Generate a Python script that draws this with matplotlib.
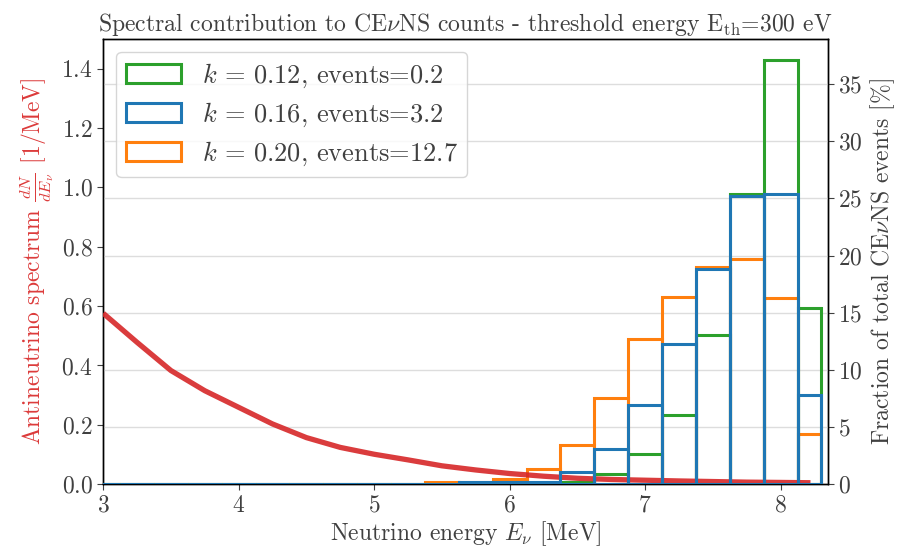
import matplotlib
matplotlib.use("Agg")
import matplotlib.pyplot as plt
from matplotlib.patches import Patch
from matplotlib.ticker import MultipleLocator

plt.rcParams["font.family"] = "serif"
plt.rcParams["font.serif"] = ["cmr10"]
plt.rcParams["mathtext.fontset"] = "cm"
plt.rcParams["axes.formatter.use_mathtext"] = True

# antineutrino spectrum dN/dE [1/MeV]
spec_energy = [3.0, 3.25, 3.5, 3.75, 4.0, 4.25, 4.5, 4.75, 5.0, 5.25, 5.5, 5.75,
               6.0, 6.25, 6.5, 6.75, 7.0, 7.25, 7.5, 7.75, 8.0, 8.22]
spec_flux = [0.576, 0.478, 0.383, 0.315, 0.259, 0.203, 0.157, 0.124, 0.101, 0.082,
             0.062, 0.048, 0.036, 0.027, 0.020, 0.016, 0.0135, 0.011, 0.009, 0.007,
             0.006, 0.005]

# energy bins (0.25 MeV, last one cut at the spectrum end)
bin_edges = [2.875 + 0.25 * i for i in range(22)] + [8.3]

# fraction of CEvNS events per bin [%], bins below 5.375 MeV are empty
n_empty = 10
frac_k012 = [0.0] * n_empty + [0.0, 0.0, 0.05, 0.1, 0.23, 0.87, 2.65, 6.06, 13.08, 25.37, 37.08, 15.38]
frac_k016 = [0.0] * n_empty + [0.0, 0.2, 0.17, 0.23, 1.1, 3.06, 6.93, 12.23, 18.82, 25.2, 25.37, 7.81]
frac_k020 = [0.0] * n_empty + [0.2, 0.2, 0.44, 1.3, 3.45, 7.52, 12.67, 16.37, 19.0, 19.66, 16.25, 4.37]

k_values = ["0.12", "0.16", "0.20"]
n_events = ["0.2", "3.2", "12.7"]

FS = 17
TXT = "#404040"

fig, ax = plt.subplots(figsize=(9.05, 5.49), dpi=100)
fig.subplots_adjust(left=0.114, right=0.915, top=0.929, bottom=0.118)
ax2 = ax.twinx()

lefts = bin_edges[:-1]
widths = [b - a for a, b in zip(bin_edges[:-1], bin_edges[1:])]
lw = 2.2


def outline_bars(frac, color, z):
    ax2.bar(lefts, frac, width=widths, align="edge", fill=False,
            edgecolor=color, lw=lw, zorder=z)


# bars above the spines so the empty bins show along the baseline
outline_bars(frac_k020, "tab:orange", 3.0)
outline_bars(frac_k012, "tab:green", 3.1)
# spectrum lives on the left scale but sits between the histograms
ax2.plot(spec_energy, spec_flux, color="tab:red", lw=3.8, alpha=0.9,
         transform=ax.transData, zorder=3.2, solid_capstyle="butt")
outline_bars(frac_k016, "tab:blue", 3.3)

ax.set_xlim(3, 8.35)
ax.set_ylim(0, 1.5)
ax2.set_ylim(0, max(frac_k012) * 1.05)
ax.yaxis.set_major_locator(MultipleLocator(0.2))
ax2.yaxis.set_major_locator(MultipleLocator(5))
ax.xaxis.set_major_locator(MultipleLocator(1))

ax.grid(False)
ax2.grid(True, axis="y", color="#dddddd", lw=1)
ax2.set_axisbelow(True)

for a in (ax, ax2):
    a.tick_params(labelsize=FS, colors=TXT, length=4, width=0.8)
    for s in a.spines.values():
        s.set_color("black")
        s.set_linewidth(1.0)

ax.set_xlabel(r"Neutrino energy $E_\nu$ [MeV]", fontsize=FS, color=TXT, labelpad=2)
ax.set_ylabel(r"Antineutrino spectrum $\frac{dN}{dE_\nu}$ [1/MeV]", fontsize=FS,
              color="#dc3a3a")
ax2.set_ylabel(r"Fraction of total CE$\nu$NS events [%]", fontsize=FS, color=TXT)
ax.set_title(r"Spectral contribution to CE$\nu$NS counts - threshold energy "
             r"E$_{\mathrm{th}}$=300 eV", fontsize=FS, color=TXT)

colors = ["tab:green", "tab:blue", "tab:orange"]
handles = [Patch(facecolor="none", edgecolor=c, lw=lw) for c in colors]
labels = [rf"$k\,=\,{k}$, events={n}" for k, n in zip(k_values, n_events)]
leg = ax2.legend(handles, labels, loc="upper left", fontsize=19,
                 handlelength=2.1, handleheight=0.72, borderpad=0.35,
                 labelspacing=0.4, framealpha=0.8, edgecolor="#cccccc",
                 fancybox=True)
leg.set_zorder(5)
for t in leg.get_texts():
    t.set_color(TXT)

fig.savefig("out.png", dpi=100)
